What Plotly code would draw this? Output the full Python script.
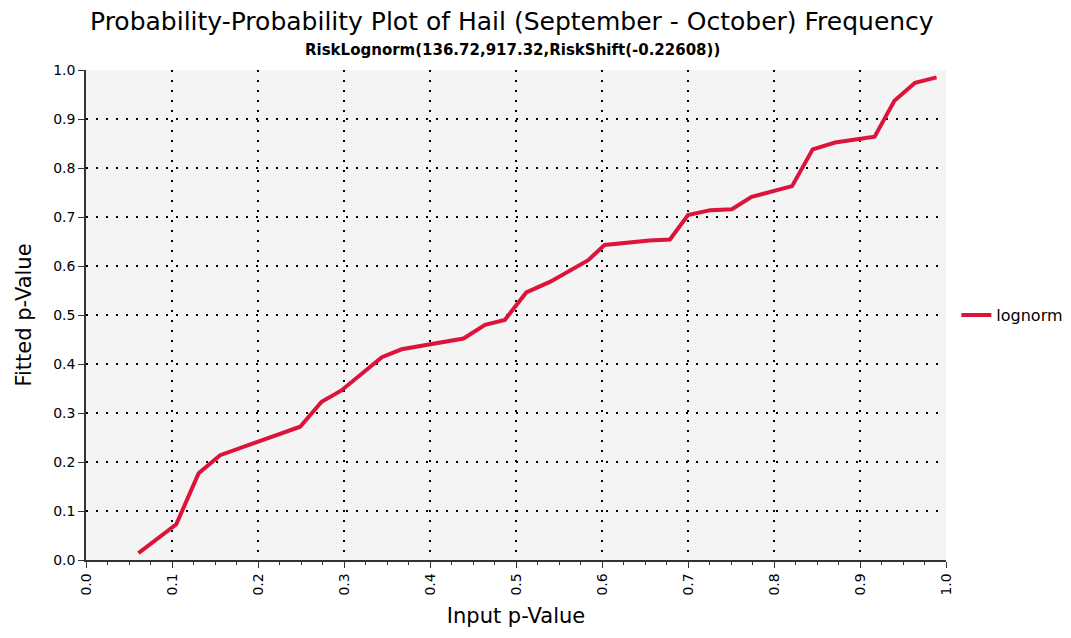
import plotly.graph_objects as go

# Input (empirical) vs fitted cumulative probabilities
input_p = [0.061, 0.105, 0.131, 0.156, 0.249, 0.274, 0.297, 0.344, 0.367,
           0.439, 0.464, 0.487, 0.512, 0.540, 0.584, 0.603, 0.655, 0.679,
           0.700, 0.726, 0.751, 0.774, 0.821, 0.845, 0.871, 0.917, 0.940,
           0.964, 0.989]
fitted_p = [0.014, 0.073, 0.177, 0.214, 0.272, 0.323, 0.346, 0.414, 0.430,
            0.452, 0.480, 0.490, 0.546, 0.568, 0.612, 0.643, 0.652, 0.654,
            0.704, 0.714, 0.716, 0.741, 0.763, 0.838, 0.852, 0.864, 0.937,
            0.974, 0.985]

tick_vals = [i / 10 for i in range(11)]
tick_text = ["%.1f" % v for v in tick_vals]

title_text = "Probability-Probability Plot of Hail (September - October) Frequency"
subtitle_text = "RiskLognorm(136.72,917.32,RiskShift(-0.22608))"

fig = go.Figure()
fig.add_trace(go.Scatter(
    x=input_p, y=fitted_p, mode="lines", name="lognorm",
    line=dict(color="#DC143C", width=4),
))

axis_common = dict(
    range=[0, 1], tickvals=tick_vals, ticktext=tick_text,
    showline=True, linecolor="#333333", linewidth=1.5,
    showgrid=True, gridcolor="black", gridwidth=1.5, griddash="2px,8px",
    zeroline=False, ticks="outside", ticklen=6, tickcolor="#333333",
    tickfont=dict(family="DejaVu Sans", size=14, color="black"),
    mirror=False, automargin=False,
)

fig.update_xaxes(
    **axis_common,
    tickangle=-90,
    minor=dict(dtick=0.025, ticklen=3, ticks="outside", tickcolor="#333333", showgrid=False),
    title=dict(text="Input p-Value", font=dict(family="DejaVu Sans", size=21, color="black"), standoff=14),
)
fig.update_yaxes(
    **axis_common,
    title=dict(text="Fitted p-Value", font=dict(family="DejaVu Sans", size=21, color="black"), standoff=16),
)

fig.update_layout(
    width=1071, height=638,
    margin=dict(l=86, r=125, t=70, b=78, autoexpand=False),
    paper_bgcolor="white", plot_bgcolor="#F4F4F4",
    showlegend=True,
    legend=dict(x=1.012, y=0.5, xanchor="left", yanchor="middle",
                font=dict(family="DejaVu Sans", size=16, color="black"),
                bgcolor="rgba(0,0,0,0)", itemwidth=30),
)

fig.add_annotation(text=title_text, xref="paper", yref="paper",
                   x=(512 - 86) / 860, y=1 + (70 - 22) / 490,
                   xanchor="center", yanchor="middle", showarrow=False,
                   font=dict(family="DejaVu Sans", size=25, color="black"))
fig.add_annotation(text="<b>" + subtitle_text + "</b>", xref="paper", yref="paper",
                   x=(512 - 86) / 860, y=1 + (70 - 50) / 490,
                   xanchor="center", yanchor="middle", showarrow=False,
                   font=dict(family="DejaVu Sans", size=15, color="black"))

fig.write_html("out.html")
